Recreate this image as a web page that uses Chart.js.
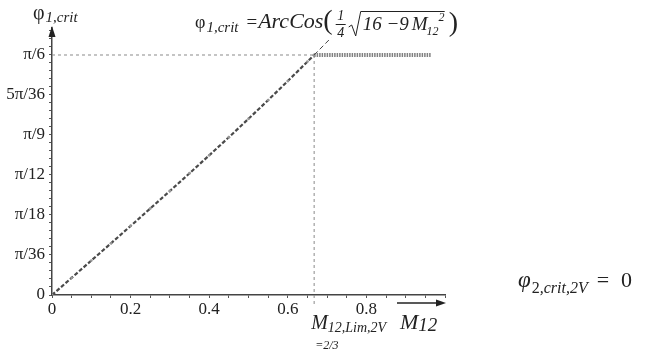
<!DOCTYPE html>
<html>
<head>
<meta charset="utf-8">
<script src="https://cdn.jsdelivr.net/npm/chart.js@4/dist/chart.umd.min.js"></script>
<style>
  body { margin: 0; background: #fff; }
  #wrap { position: relative; width: 648px; height: 351px; }
</style>
</head>
<body>
<div id="wrap"><canvas id="phiChart"></canvas></div>
<script>
// values (M12 -> phi_1,crit in rad)
const curveM = [0, 0.05, 0.1, 0.15, 0.2, 0.25, 0.3, 0.35, 0.4, 0.45, 0.5, 0.55, 0.6, 0.65, 0.667];
const curvePhi = [0, 0.0375, 0.0751, 0.1127, 0.1506, 0.1887, 0.2269, 0.2656, 0.3047, 0.3442, 0.3844, 0.4252, 0.4668, 0.5092, 0.5236];
const flatM = [0.667, 0.965];
const flatPhi = [0.5236, 0.5236];
const leaderM = [0.667, 0.71];
const leaderPhi = [0.5236, 0.561];
const limM = 0.667;
const limPhi = 0.5236;

const xTickLabels = ['0', '0.2', '0.4', '0.6', '0.8'];
const yTickLabels = ['0', 'π/36', 'π/18', 'π/12', 'π/9', '5π/36', 'π/6'];

const FONT = '"Liberation Serif", "Times New Roman", serif';
const pts = (xs, ys) => xs.map((x, i) => ({ x: x, y: ys[i] }));

// rich text helper: draws parts left to right
function drawParts(ctx, x, y, parts) {
  parts.forEach(p => {
    ctx.font = (p.it ? 'italic ' : '') + p.size + 'px ' + FONT;
    ctx.fillText(p.t, x + (p.dx || 0), y + (p.dy || 0));
    x += (p.dx || 0) + ctx.measureText(p.t).width;
  });
  return x;
}

const annotations = {
  id: 'annotations',
  afterDraw(chart) {
    const ctx = chart.ctx;
    const xs = chart.scales.x;
    const x0 = xs.getPixelForValue(0);
    ctx.save();
    ctx.fillStyle = '#222';
    ctx.strokeStyle = '#222';
    ctx.textBaseline = 'alphabetic';

    // y axis arrow head
    const top = chart.chartArea.top;
    ctx.beginPath();
    ctx.moveTo(x0, top - 2);
    ctx.lineTo(x0 - 3.5, top + 9);
    ctx.lineTo(x0 + 3.5, top + 9);
    ctx.closePath();
    ctx.fill();

    // y axis title
    drawParts(ctx, 33, 19, [
      { t: 'φ', size: 20 },
      { t: '1,crit', size: 15, it: true, dy: 3, dx: 1 }
    ]);

    // formula
    let fx = drawParts(ctx, 195, 28, [
      { t: 'φ', size: 18 },
      { t: '1,crit', size: 15, it: true, dy: 4, dx: 1 },
      { t: '=', size: 19, dx: 8 },
      { t: 'ArcCos', size: 22, it: true, dx: 1 },
      { t: '(', size: 28, dy: 1 }
    ]);
    ctx.font = 'italic 14px ' + FONT;
    ctx.textAlign = 'center';
    ctx.fillText('1', fx + 8, 20);
    ctx.fillText('4', fx + 8, 37);
    ctx.textAlign = 'left';
    ctx.lineWidth = 1;
    ctx.beginPath();
    ctx.moveTo(fx + 3, 24.5);
    ctx.lineTo(fx + 13, 24.5);
    ctx.stroke();
    const sx = fx + 16;
    ctx.beginPath();
    ctx.moveTo(sx, 27);
    ctx.lineTo(sx + 3, 25);
    ctx.lineTo(sx + 7, 36);
    ctx.lineTo(sx + 12, 11.5);
    ctx.lineTo(sx + 96, 11.5);
    ctx.stroke();
    fx = drawParts(ctx, sx + 14, 30, [
      { t: '16 −9', size: 19, it: true },
      { t: 'M', size: 19, it: true, dx: 3 }
    ]);
    ctx.font = 'italic 12px ' + FONT;
    ctx.fillText('12', fx - 1, 35);
    ctx.fillText('2', fx + 11, 21);
    ctx.font = '28px ' + FONT;
    ctx.fillText(')', sx + 100, 31);

    // limit label under the axis
    const lx = xs.getPixelForValue(limM) - 3;
    drawParts(ctx, lx, 329, [
      { t: 'M', size: 20, it: true },
      { t: '12,Lim,2V', size: 14, it: true, dy: 3 }
    ]);
    drawParts(ctx, lx + 4, 349, [{ t: '=2/3', size: 12, it: true }]);

    // M12 with arrow
    const ax = chart.chartArea.right;
    ctx.lineWidth = 1.5;
    ctx.beginPath();
    ctx.moveTo(ax - 48, 303);
    ctx.lineTo(ax - 6, 303);
    ctx.stroke();
    ctx.beginPath();
    ctx.moveTo(ax + 1, 303);
    ctx.lineTo(ax - 9, 299.5);
    ctx.lineTo(ax - 9, 306.5);
    ctx.closePath();
    ctx.fill();
    drawParts(ctx, ax - 45, 329, [
      { t: 'M', size: 22, it: true },
      { t: '12', size: 19, it: true, dy: 2 }
    ]);

    // phi_2 note on the right
    drawParts(ctx, 518, 287, [
      { t: 'φ', size: 23, it: true },
      { t: '2', size: 16, dy: 6, dx: 1 },
      { t: ',crit,2V', size: 16, it: true, dy: 6 },
      { t: '=', size: 22, dx: 9 },
      { t: '0', size: 22, dx: 12 }
    ]);
    ctx.restore();
  }
};

new Chart(document.getElementById('phiChart'), {
  type: 'scatter',
  data: {
    datasets: [
      { data: pts([0, limM], [limPhi, limPhi]), showLine: true, borderColor: '#8a8a8a', borderWidth: 1, borderDash: [3, 3], pointRadius: 0 },
      { data: pts([limM, limM], [limPhi, -0.022]), showLine: true, borderColor: '#8a8a8a', borderWidth: 1, borderDash: [3, 3], pointRadius: 0, clip: false },
      { data: pts(leaderM, leaderPhi), showLine: true, borderColor: '#444', borderWidth: 1, borderDash: [5, 3], pointRadius: 0, clip: false },
      { data: pts(curveM, curvePhi), showLine: true, borderColor: '#4a4a4a', borderWidth: 2.2, borderDash: [4, 2], pointRadius: 1.4, pointBackgroundColor: '#999', pointBorderWidth: 0 },
      { data: pts(flatM, flatPhi), showLine: true, borderColor: '#808080', borderWidth: 4, borderDash: [1.5, 1], pointRadius: 0 }
    ]
  },
  options: {
    responsive: true,
    maintainAspectRatio: false,
    animation: false,
    events: [],
    layout: { padding: { left: 0, right: 203, top: 28, bottom: 0 } },
    plugins: { legend: { display: false }, tooltip: { enabled: false } },
    scales: {
      x: {
        type: 'linear', min: 0, max: 1.0,
        afterFit: s => { s.height = 56; },
        afterBuildTicks: s => { s.ticks = Array.from({ length: 21 }, (_, k) => ({ value: k * 0.05 })); },
        border: { color: '#444', width: 1.5 },
        grid: { drawOnChartArea: false, tickLength: 3, tickColor: '#555' },
        ticks: {
          autoSkip: false, maxRotation: 0, padding: 1, color: '#222',
          font: { family: FONT, size: 17 },
          callback: (v, i) => (i % 4 === 0 && i / 4 < xTickLabels.length) ? xTickLabels[i / 4] : ''
        }
      },
      y: {
        type: 'linear', min: 0, max: 0.5825,
        afterFit: s => { s.width = 52; },
        afterBuildTicks: s => { s.ticks = Array.from({ length: 34 }, (_, d) => ({ value: d * Math.PI / 180 })); },
        border: { color: '#444', width: 1.5 },
        grid: { drawOnChartArea: false, tickLength: 3, tickColor: '#555' },
        ticks: {
          autoSkip: false, padding: 4, color: '#222',
          font: { family: FONT, size: 17 },
          callback: (v, i) => (i % 5 === 0 && i / 5 < yTickLabels.length) ? yTickLabels[i / 5] : ''
        }
      }
    }
  },
  plugins: [annotations]
});
</script>
</body>
</html>
